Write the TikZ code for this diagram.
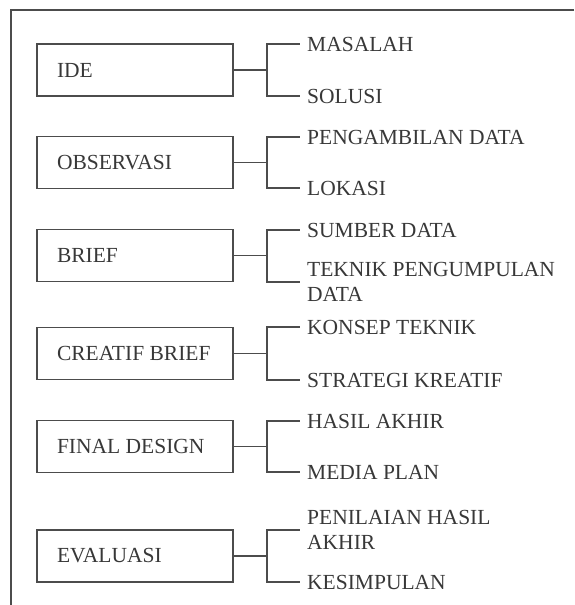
\documentclass[tikz,border=0pt]{standalone}
\usepackage{fontspec}
\setmainfont{Liberation Serif}
\begin{document}
\begin{tikzpicture}[x=1pt,y=-1pt,
  every node/.style={font=\fontsize{21.5}{25}\selectfont, text=black!78},
  mainbox/.style={draw=black!70, line width=1.6pt, minimum width=196pt, minimum height=52pt, inner sep=0pt},
  leaf/.style={anchor=west, inner xsep=3pt, inner ysep=0pt, align=left},
  link/.style={draw=black!70, line width=1.6pt}]
\useasboundingbox (0,0) rectangle (574,605);
\coordinate (ftl) at (11,10);
\coordinate (ftr) at (574,10);
\coordinate (fbl) at (11,605);
\draw[link] (ftr) -- (ftl) -- (fbl);

\node[mainbox] (b1) at (135,70) {\makebox[156pt][l]{IDE}};
\node[mainbox] (b2) at (135,162.5) {\makebox[156pt][l]{OBSERVASI}};
\node[mainbox] (b3) at (135,255.5) {\makebox[156pt][l]{BRIEF}};
\node[mainbox] (b4) at (135,353.5) {\makebox[156pt][l]{CREATIF BRIEF}};
\node[mainbox] (b5) at (135,446.5) {\makebox[156pt][l]{FINAL DESIGN}};
\node[mainbox] (b6) at (135,556) {\makebox[156pt][l]{EVALUASI}};

\node[leaf] (l1a) at (304,44) {MASALAH};
\node[leaf] (l1b) at (304,96) {SOLUSI};
\node[leaf] (l2a) at (304,137) {PENGAMBILAN DATA};
\node[leaf] (l2b) at (304,188) {LOKASI};
\node[leaf] (l3a) at (304,230) {SUMBER DATA};
\node[leaf] (l3b) at (304,282) {TEKNIK PENGUMPULAN\\DATA};
\node[leaf] (l4a) at (304,327) {KONSEP TEKNIK};
\node[leaf] (l4b) at (304,380) {STRATEGI KREATIF};
\node[leaf] (l5a) at (304,421) {HASIL AKHIR};
\node[leaf] (l5b) at (304,472) {MEDIA PLAN};
\node[leaf] (l6a) at (304,530) {PENILAIAN HASIL\\AKHIR};
\node[leaf] (l6b) at (304,582) {KESIMPULAN};

\foreach \i in {1,...,6}{
  \draw[link] (b\i.east) -- ++(33,0) coordinate (j\i);
  \draw[link, shorten >=4pt] (j\i) |- (l\i a.west);
  \draw[link, shorten >=4pt] (j\i) |- (l\i b.west);
}
\end{tikzpicture}
\end{document}
